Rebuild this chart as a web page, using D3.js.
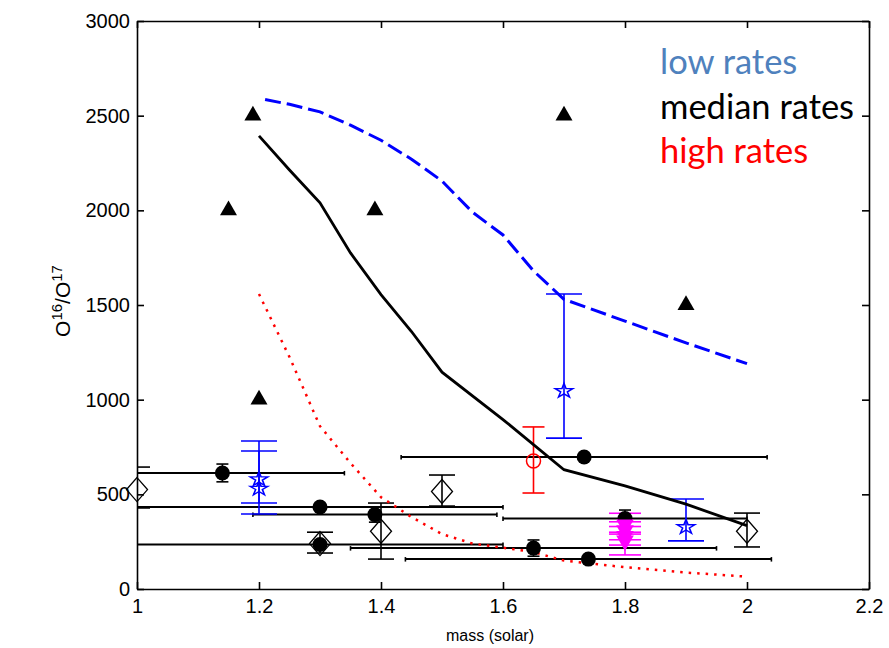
<!DOCTYPE html>
<html>
<head>
<meta charset="utf-8">
<script src="https://cdn.jsdelivr.net/npm/d3@7"></script>
<style>
  html, body { margin: 0; padding: 0; background: #fff; }
  svg { display: block; }
  .tick text { font-family: "Liberation Sans", Arial, sans-serif; font-size: 20px; fill: #000; }
</style>
</head>
<body>
<svg id="chart" width="889" height="648"></svg>
<script>
// Axis ticks
const xTicks = [1, 1.2, 1.4, 1.6, 1.8, 2, 2.2];
const yTicks = [0, 500, 1000, 1500, 2000, 2500, 3000];

// Model curves: O16/O17 vs mass for low, median and high reaction rates
const lowMass   = [1.21, 1.25, 1.3, 1.35, 1.4, 1.45, 1.5, 1.55, 1.6, 1.65, 1.7, 1.8, 1.9, 2.0];
const lowRatio  = [2585, 2560, 2520, 2450, 2370, 2270, 2155, 1990, 1870, 1680, 1530, 1415, 1300, 1190];
const medMass   = [1.2, 1.25, 1.3, 1.35, 1.4, 1.45, 1.5, 1.6, 1.7, 1.8, 1.9, 2.0];
const medRatio  = [2393, 2213, 2040, 1775, 1555, 1360, 1145, 895, 630, 545, 448, 335];
const highMass  = [1.2, 1.25, 1.3, 1.35, 1.4, 1.45, 1.5, 1.55, 1.6, 1.65, 1.7, 1.8, 1.9, 2.0];
const highRatio = [1558, 1225, 860, 665, 485, 380, 290, 240, 218, 195, 150, 115, 87, 65];

// Filled triangles
const triMass  = [1.15, 1.19, 1.2, 1.39, 1.7, 1.9];
const triRatio = [2000, 2500, 1000, 2000, 2500, 1500];

// Filled circles with horizontal (mass) and vertical (ratio) error bars
const circMass  = [1.14, 1.3, 1.3, 1.39, 1.65, 1.74, 1.733, 1.8];
const circRatio = [613, 433, 235, 393, 216, 158, 697, 372];
const circXErr  = [0.2, 0.3, 0.3, 0.2, 0.3, 0.3, 0.3, 0.2];
const circYErr  = [47, 0, 0, 40, 43, 0, 0, 45];

// Open diamonds with vertical error bars
const diaMass  = [1.0, 1.3, 1.4, 1.5, 2.0];
const diaRatio = [525, 240, 305, 515, 305];
const diaLo    = [428, 190, 158, 438, 222];
const diaHi    = [644, 300, 454, 602, 401];

// Open stars (blue) with vertical error bars
const starMass  = [1.2, 1.2, 1.7, 1.9];
const starRatio = [580, 530, 1046, 327];
const starLo    = [396, 454, 797, 254];
const starHi    = [782, 729, 1558, 475];

// Open red circle
const redMass  = [1.65];
const redRatio = [676];
const redLo    = [507];
const redHi    = [856];

// Magenta downward triangles
const magMass  = [1.8, 1.8, 1.8, 1.8];
const magRatio = [340, 310, 280, 255];
const magLo    = [290, 260, 232, 180];
const magHi    = [400, 355, 330, 300];

// Legend
const legendLabels = ["low rates", "median rates", "high rates"];
const legendColors = ["#4f81bd", "#000000", "#ff0000"];

const svg = d3.select("#chart");
const x = d3.scaleLinear().domain([1, 2.2]).range([137, 869]);
const y = d3.scaleLinear().domain([0, 3000]).range([589, 21]);

svg.append("defs").append("clipPath").attr("id", "plotClip")
  .append("rect").attr("x", x(1)).attr("y", y(3000))
  .attr("width", x(2.2) - x(1)).attr("height", y(0) - y(3000));

// Frame and ticks (inward on all four sides)
const tickLen = 7;
svg.append("g").attr("transform", `translate(0,${y(0)})`)
  .call(d3.axisBottom(x).tickValues(xTicks).tickSizeInner(-tickLen).tickSizeOuter(0).tickPadding(10)
    .tickFormat(d3.format("")));
svg.append("g").attr("transform", `translate(${x(1)},0)`)
  .call(d3.axisLeft(y).tickValues(yTicks).tickSizeInner(-tickLen).tickSizeOuter(0).tickPadding(7)
    .tickFormat(d3.format("d")));
svg.append("g").attr("transform", `translate(0,${y(3000)})`)
  .call(d3.axisTop(x).tickValues(xTicks).tickSizeInner(-tickLen).tickSizeOuter(0).tickFormat(""));
svg.append("g").attr("transform", `translate(${x(2.2)},0)`)
  .call(d3.axisRight(y).tickValues(yTicks).tickSizeInner(-tickLen).tickSizeOuter(0).tickFormat(""));
svg.selectAll(".domain, .tick line").attr("stroke", "#000").attr("stroke-width", 1.6);

// Axis titles
svg.append("text").attr("x", 490).attr("y", 641).attr("text-anchor", "middle")
  .attr("font-family", "Liberation Sans, Arial, sans-serif").attr("font-size", 16)
  .text("mass (solar)");
const yl = svg.append("text").attr("transform", "translate(70,301) rotate(-90)")
  .attr("text-anchor", "middle")
  .attr("font-family", "Liberation Sans, Arial, sans-serif").attr("font-size", 21);
yl.append("tspan").text("O");
yl.append("tspan").attr("font-size", 15).attr("dy", -8).text("16");
yl.append("tspan").attr("dy", 8).text("/O");
yl.append("tspan").attr("font-size", 15).attr("dy", -8).text("17");

const plot = svg.append("g");
const clipped = plot.append("g").attr("clip-path", "url(#plotClip)");

// Vertical error bar helper
function vErr(g, mass, lo, hi, cap, color, width) {
  const cx = x(mass);
  g.append("line").attr("x1", cx).attr("x2", cx).attr("y1", y(lo)).attr("y2", y(hi))
    .attr("stroke", color).attr("stroke-width", width);
  [lo, hi].forEach(v => g.append("line")
    .attr("x1", cx - cap / 2).attr("x2", cx + cap / 2).attr("y1", y(v)).attr("y2", y(v))
    .attr("stroke", color).attr("stroke-width", width));
}

// Horizontal error bars of the filled circles
circMass.forEach((m, i) => {
  const yy = y(circRatio[i]);
  clipped.append("line").attr("x1", x(m - circXErr[i])).attr("x2", x(m + circXErr[i]))
    .attr("y1", yy).attr("y2", yy).attr("stroke", "#000").attr("stroke-width", 2);
  [m - circXErr[i], m + circXErr[i]].forEach(e => clipped.append("line")
    .attr("x1", x(e)).attr("x2", x(e)).attr("y1", yy - 2).attr("y2", yy + 2.5)
    .attr("stroke", "#000").attr("stroke-width", 1.6));
});

// Vertical error bars
diaMass.forEach((m, i) => vErr(clipped, m, diaLo[i], diaHi[i], 26, "#000", 1.6));
circMass.forEach((m, i) => { if (circYErr[i] > 0)
  vErr(clipped, m, circRatio[i] - circYErr[i], circRatio[i] + circYErr[i], 12, "#000", 1.6); });
starMass.forEach((m, i) => vErr(clipped, m, starLo[i], starHi[i], 36, "#0000ff", 1.6));
redMass.forEach((m, i) => vErr(clipped, m, redLo[i], redHi[i], 22, "#ff0000", 1.6));
magMass.forEach((m, i) => vErr(clipped, m, magLo[i], magHi[i], 32, "#ff00ff", 1.6));

// Diamond marker (wider than d3's built-in rhombus)
const diamondType = {
  draw(ctx, size) {
    const w = 10.5, h = 12;
    ctx.moveTo(0, -h); ctx.lineTo(w, 0); ctx.lineTo(0, h); ctx.lineTo(-w, 0); ctx.closePath();
  }
};
plot.selectAll(".dia").data(diaMass).join("path")
  .attr("transform", (m, i) => `translate(${x(m)},${y(diaRatio[i])})`)
  .attr("d", d3.symbol().type(diamondType)())
  .attr("fill", "none").attr("stroke", "#000").attr("stroke-width", 1.3);

plot.selectAll(".circ").data(circMass).join("circle")
  .attr("cx", m => x(m)).attr("cy", (m, i) => y(circRatio[i])).attr("r", 7.5)
  .attr("fill", "#000");

plot.selectAll(".star").data(starMass).join("path")
  .attr("transform", (m, i) => `translate(${x(m)},${y(starRatio[i])}) scale(1.1,0.9)`)
  .attr("d", d3.symbol().type(d3.symbolStar).size(80)())
  .attr("fill", "none").attr("stroke", "#0000ff").attr("stroke-width", 1.5);

plot.selectAll(".red").data(redMass).join("circle")
  .attr("cx", m => x(m)).attr("cy", (m, i) => y(redRatio[i])).attr("r", 7)
  .attr("fill", "none").attr("stroke", "#ff0000").attr("stroke-width", 1.5);

plot.selectAll(".mag").data(magMass).join("path")
  .attr("transform", (m, i) => `translate(${x(m)},${y(magRatio[i])}) rotate(180)`)
  .attr("d", d3.symbol().type(d3.symbolTriangle).size(135)())
  .attr("fill", "#ff00ff");

plot.selectAll(".tri").data(triMass).join("path")
  .attr("transform", (m, i) => `translate(${x(m)},${y(triRatio[i])})`)
  .attr("d", d3.symbol().type(d3.symbolTriangle).size(125)())
  .attr("fill", "#000");

// Curves
const line = d3.line().x(d => x(d[0])).y(d => y(d[1]));
clipped.append("path").datum(lowMass.map((m, i) => [m, lowRatio[i]]))
  .attr("d", line).attr("fill", "none").attr("stroke", "#0000ff")
  .attr("stroke-width", 3).attr("stroke-dasharray", "16,6");
clipped.append("path").datum(medMass.map((m, i) => [m, medRatio[i]]))
  .attr("d", line).attr("fill", "none").attr("stroke", "#000")
  .attr("stroke-width", 2.8);
clipped.append("path").datum(highMass.map((m, i) => [m, highRatio[i]]))
  .attr("d", line).attr("fill", "none").attr("stroke", "#ff0000")
  .attr("stroke-width", 2.5).attr("stroke-dasharray", "2.5,6");

// Legend text
svg.selectAll(".legend").data(legendLabels).join("text")
  .attr("x", 660).attr("y", (d, i) => 74 + i * 44.5)
  .attr("font-family", "Lato, 'Open Sans', sans-serif").attr("font-size", 34.5)
  .attr("fill", (d, i) => legendColors[i])
  .text(d => d);
</script>
</body>
</html>
